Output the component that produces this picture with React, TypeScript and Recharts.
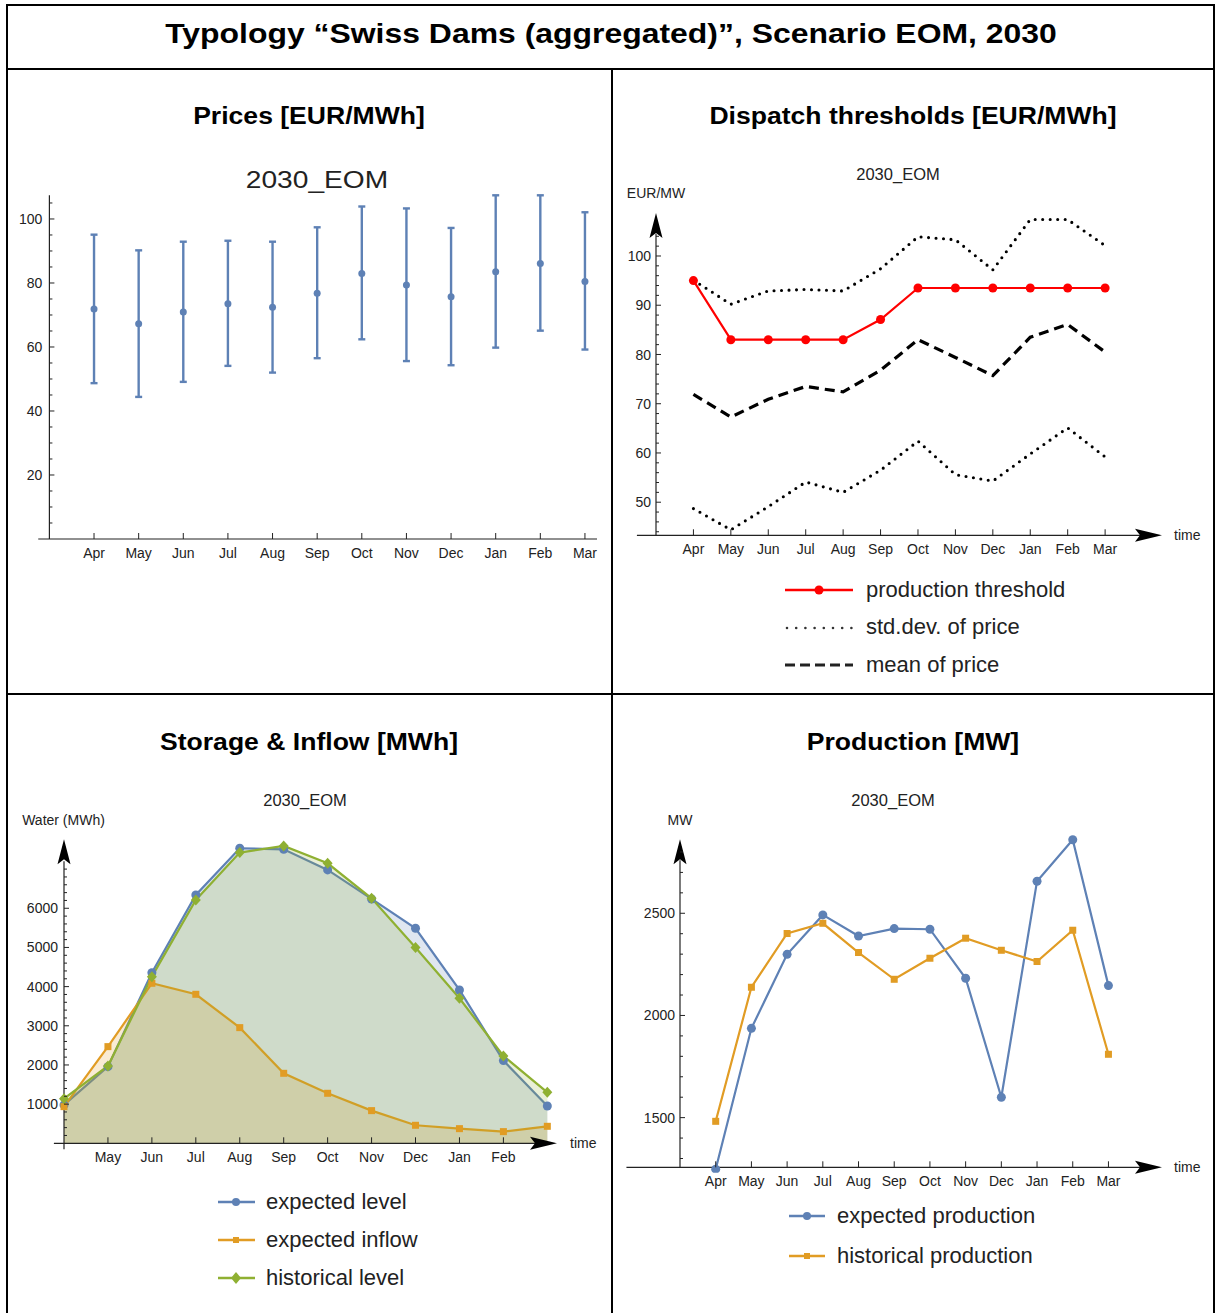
import React from 'react'
import {
  Area,
  ComposedChart,
  ErrorBar,
  Line,
  ReferenceDot,
  ReferenceLine,
  XAxis,
  YAxis,
} from 'recharts'

const FONT = '"Liberation Sans", Arial, Helvetica, sans-serif'
const BLUE = '#5E81B5'
const ORANGE = '#E19C24'
const GREEN = '#8FB032'
const RED = '#FF0000'
const INK = '#222'

const MONTHS = ['Apr', 'May', 'Jun', 'Jul', 'Aug', 'Sep', 'Oct', 'Nov', 'Dec', 'Jan', 'Feb', 'Mar']

// monthly price statistics [EUR/MWh]
const priceMean = [71.9, 67.3, 70.9, 73.5, 72.4, 76.8, 83.0, 79.4, 75.7, 83.5, 86.1, 80.5]
const priceHigh = [95.1, 90.2, 92.9, 93.2, 92.9, 97.4, 103.9, 103.3, 97.2, 107.4, 107.4, 102.1]
const priceLow = [48.7, 44.4, 49.1, 54.1, 52.0, 56.5, 62.4, 55.6, 54.3, 59.8, 65.1, 59.2]

// dispatch threshold [EUR/MWh]
const productionThreshold = [95.0, 83.0, 83.0, 83.0, 83.0, 87.1, 93.5, 93.5, 93.5, 93.5, 93.5, 93.5]

// reservoir [MWh]
const expectedLevel = [980, 1957, 4357, 6340, 7532, 7506, 6979, 6238, 5489, 3915, 2111, 953]
const expectedInflow = [936, 2468, 4085, 3804, 2953, 1787, 1277, 834, 460, 374, 298, 434]
const historicalLevel = [1140, 1974, 4255, 6213, 7421, 7591, 7149, 6255, 4996, 3702, 2230, 1302]

// production [MW]
const expectedProduction = [1248, 1937, 2299, 2492, 2389, 2425, 2422, 2182, 1600, 2657, 2860, 2146]
const historicalProduction = [1482, 2138, 2401, 2451, 2308, 2177, 2280, 2378, 2319, 2264, 2417, 1810]

// labelled axis ticks
const priceTicks = [20, 40, 60, 80, 100]
const thresholdTicks = [50, 60, 70, 80, 90, 100]
const storageTicks = [1000, 2000, 3000, 4000, 5000, 6000]
const productionTicks = [1500, 2000, 2500]

const priceRows = MONTHS.map((m, i) => ({
  t: i + 1,
  mean: priceMean[i],
  err: [priceMean[i] - priceLow[i], priceHigh[i] - priceMean[i]],
  high: priceHigh[i],
  low: priceLow[i],
  threshold: productionThreshold[i],
}))

const storageRows = MONTHS.map((m, i) => ({
  t: i,
  level: expectedLevel[i],
  inflow: expectedInflow[i],
  hist: historicalLevel[i],
}))

const productionRows = MONTHS.map((m, i) => ({
  t: i + 1,
  expected: expectedProduction[i],
  historical: historicalProduction[i],
}))

const steps = (from: number, to: number, step: number) => {
  const out: number[] = []
  for (let v = from; v <= to + 1e-9; v += step) out.push(Math.round(v * 100) / 100)
  return out
}

const YW = 40
const XH = 30
type Box = { left: number; top: number; width: number; height: number }
type Plot = { left: number; top: number; right: number; bottom: number }
const marginFor = (box: Box, plot: Plot) => ({
  left: plot.left - box.left - YW,
  top: plot.top - box.top,
  right: box.left + box.width - plot.right,
  bottom: box.top + box.height - plot.bottom - XH,
})

// Mathematica-style ticks: pointing into the plot, labels only on the majors
const valueTick = (labels: number[], gap: number) => (props: any) => {
  const { x, y, payload } = props
  const major = labels.includes(payload.value)
  return (
    <g>
      <line x1={x} x2={x + (major ? 5 : 3)} y1={y} y2={y} stroke={INK} strokeWidth={1} />
      {major && (
        <text x={x - gap} y={y} dy="0.36em" textAnchor="end" fontSize={14} fill={INK} fontFamily={FONT}>
          {payload.value}
        </text>
      )}
    </g>
  )
}

const monthTick = (offset: number) => (props: any) => {
  const { x, y, payload } = props
  return (
    <g>
      <line x1={x} x2={x} y1={y} y2={y - 6} stroke={INK} strokeWidth={1} />
      <text x={x} y={y + 14} dy="0.36em" textAnchor="middle" fontSize={14} fill={INK} fontFamily={FONT}>
        {MONTHS[payload.value - offset]}
      </text>
    </g>
  )
}

const upArrow = (p: any) => (
  <polygon
    points={`${p.cx},${p.cy} ${p.cx - 6.5},${p.cy + 25} ${p.cx},${p.cy + 20} ${p.cx + 6.5},${p.cy + 25}`}
    fill="#000"
  />
)
const rightArrow = (p: any) => (
  <polygon
    points={`${p.cx},${p.cy} ${p.cx - 27},${p.cy - 6.5} ${p.cx - 22},${p.cy} ${p.cx - 27},${p.cy + 6.5}`}
    fill="#000"
  />
)

const circleDot = (color: string, r = 4.5) => (p: any) => (
  <circle key={p.index} cx={p.cx} cy={p.cy} r={r} fill={color} />
)
const squareDot = (color: string, s = 7) => (p: any) => (
  <rect key={p.index} x={p.cx - s / 2} y={p.cy - s / 2} width={s} height={s} fill={color} />
)
const diamondDot = (color: string) => (p: any) => (
  <polygon
    key={p.index}
    points={`${p.cx},${p.cy - 5.5} ${p.cx + 5},${p.cy} ${p.cx},${p.cy + 5.5} ${p.cx - 5},${p.cy}`}
    fill={color}
  />
)

function Txt({
  x,
  y,
  children,
  size = 14,
  bold = false,
  stretch = 1,
  anchor = 'middle',
}: {
  x: number
  y: number
  children: React.ReactNode
  size?: number
  bold?: boolean
  stretch?: number
  anchor?: 'middle' | 'start'
}) {
  const tx = anchor === 'middle' ? '-50%' : '0'
  return (
    <div
      style={{
        position: 'absolute',
        left: x,
        top: y,
        transform: `translate(${tx}, -50%) scaleX(${stretch})`,
        transformOrigin: anchor === 'middle' ? 'center' : 'left center',
        fontSize: size,
        fontWeight: bold ? 700 : 400,
        fontFamily: FONT,
        lineHeight: 1,
        whiteSpace: 'nowrap',
        color: bold ? '#000' : INK,
      }}
    >
      {children}
    </div>
  )
}

const axisLine = { stroke: INK, strokeWidth: 1.2, ifOverflow: 'visible' as const }

function PricesChart() {
  const box = { left: 0, top: 140, width: 612, height: 440 }
  const plot = { left: 49.4, top: 195.3, right: 597, bottom: 539 }
  return (
    <div style={{ position: 'absolute', left: box.left, top: box.top }}>
      <ComposedChart width={box.width} height={box.height} data={priceRows} margin={marginFor(box, plot)}>
        <XAxis
          type="number"
          dataKey="t"
          domain={[0, 12.27]}
          ticks={steps(1, 12, 1)}
          interval={0}
          height={XH}
          axisLine={false}
          tickLine={false}
          tickSize={0}
          tickMargin={0}
          tick={monthTick(1)}
        />
        <YAxis
          type="number"
          domain={[0, 107.4]}
          ticks={steps(5, 105, 5)}
          interval={0}
          width={YW}
          axisLine={false}
          tickLine={false}
          tickSize={0}
          tickMargin={0}
          tick={valueTick(priceTicks, 7)}
        />
        <ReferenceLine segment={[{ x: -0.25, y: 0 }, { x: 12.27, y: 0 }]} {...axisLine} />
        <ReferenceLine segment={[{ x: 0, y: 0 }, { x: 0, y: 107.4 }]} {...axisLine} />
        <Line
          dataKey="mean"
          stroke="none"
          dot={{ r: 3.5, fill: BLUE, stroke: 'none' }}
          isAnimationActive={false}
        >
          <ErrorBar dataKey="err" width={3.5} strokeWidth={2.4} stroke={BLUE} direction="y" />
        </Line>
      </ComposedChart>
    </div>
  )
}

function ThresholdChart() {
  const box = { left: 612, top: 140, width: 604, height: 440 }
  const plot = { left: 656, top: 213, right: 1162, bottom: 535.3 }
  return (
    <div style={{ position: 'absolute', left: box.left, top: box.top }}>
      <ComposedChart width={box.width} height={box.height} data={priceRows} margin={marginFor(box, plot)}>
        <XAxis
          type="number"
          dataKey="t"
          domain={[0, 13.52]}
          ticks={steps(1, 12, 1)}
          interval={0}
          height={XH}
          axisLine={false}
          tickLine={false}
          tickSize={0}
          tickMargin={0}
          tick={monthTick(1)}
        />
        <YAxis
          type="number"
          domain={[43.28, 108.73]}
          ticks={steps(44, 104, 2)}
          interval={0}
          width={YW}
          axisLine={false}
          tickLine={false}
          tickSize={0}
          tickMargin={0}
          tick={valueTick(thresholdTicks, 5)}
        />
        <ReferenceLine segment={[{ x: -0.51, y: 43.28 }, { x: 13.0, y: 43.28 }]} {...axisLine} />
        <ReferenceLine segment={[{ x: 0, y: 43.28 }, { x: 0, y: 104.5 }]} {...axisLine} />
        <ReferenceDot x={0} y={108.73} shape={upArrow} ifOverflow="visible" />
        <ReferenceDot x={13.52} y={43.28} shape={rightArrow} ifOverflow="visible" />
        <Line
          dataKey="high"
          stroke="#000"
          strokeWidth={3.1}
          strokeDasharray="0 7.5"
          strokeLinecap="round"
          dot={false}
          isAnimationActive={false}
        />
        <Line
          dataKey="low"
          stroke="#000"
          strokeWidth={3.1}
          strokeDasharray="0 7.5"
          strokeLinecap="round"
          dot={false}
          isAnimationActive={false}
        />
        <Line
          dataKey="mean"
          stroke="#000"
          strokeWidth={3.2}
          strokeDasharray="10 6"
          dot={false}
          isAnimationActive={false}
        />
        <Line
          dataKey="threshold"
          stroke={RED}
          strokeWidth={2.2}
          dot={{ r: 4.5, fill: RED, stroke: 'none' }}
          isAnimationActive={false}
        />
      </ComposedChart>
    </div>
  )
}

function StorageChart() {
  const box = { left: 0, top: 780, width: 612, height: 420 }
  const plot = { left: 64, top: 839.3, right: 557, bottom: 1143.3 }
  return (
    <div style={{ position: 'absolute', left: box.left, top: box.top }}>
      <ComposedChart width={box.width} height={box.height} data={storageRows} margin={marginFor(box, plot)}>
        <XAxis
          type="number"
          dataKey="t"
          domain={[0, 11.22]}
          ticks={steps(1, 10, 1)}
          interval={0}
          height={XH}
          axisLine={false}
          tickLine={false}
          tickSize={0}
          tickMargin={0}
          tick={monthTick(0)}
        />
        <YAxis
          type="number"
          domain={[0, 7761]}
          ticks={steps(200, 7000, 200)}
          interval={0}
          width={YW}
          axisLine={false}
          tickLine={false}
          tickSize={0}
          tickMargin={0}
          tick={valueTick(storageTicks, 6)}
        />
        <Area
          type="linear"
          dataKey="level"
          stroke={BLUE}
          strokeWidth={2.2}
          fill={BLUE}
          fillOpacity={0.2}
          dot={circleDot(BLUE)}
          isAnimationActive={false}
        />
        <Area
          type="linear"
          dataKey="inflow"
          stroke={ORANGE}
          strokeWidth={2.2}
          fill={ORANGE}
          fillOpacity={0.2}
          dot={squareDot(ORANGE)}
          isAnimationActive={false}
        />
        <Area
          type="linear"
          dataKey="hist"
          stroke={GREEN}
          strokeWidth={2.2}
          fill={GREEN}
          fillOpacity={0.2}
          dot={diamondDot(GREEN)}
          isAnimationActive={false}
        />
        <ReferenceLine segment={[{ x: -0.23, y: 0 }, { x: 10.8, y: 0 }]} {...axisLine} />
        <ReferenceLine segment={[{ x: 0, y: -153 }, { x: 0, y: 7200 }]} {...axisLine} />
        <ReferenceDot x={0} y={7761} shape={upArrow} ifOverflow="visible" />
        <ReferenceDot x={11.22} y={0} shape={rightArrow} ifOverflow="visible" />
      </ComposedChart>
    </div>
  )
}

function ProductionChart() {
  const box = { left: 612, top: 780, width: 604, height: 420 }
  const plot = { left: 680, top: 839.3, right: 1162, bottom: 1167.3 }
  return (
    <div style={{ position: 'absolute', left: box.left, top: box.top }}>
      <ComposedChart width={box.width} height={box.height} data={productionRows} margin={marginFor(box, plot)}>
        <XAxis
          type="number"
          dataKey="t"
          domain={[0, 13.5]}
          ticks={steps(1, 12, 1)}
          interval={0}
          height={XH}
          axisLine={false}
          tickLine={false}
          tickSize={0}
          tickMargin={0}
          tick={monthTick(1)}
        />
        <YAxis
          type="number"
          domain={[1257, 2862]}
          allowDataOverflow
          ticks={steps(1300, 2800, 100)}
          interval={0}
          width={YW}
          axisLine={false}
          tickLine={false}
          tickSize={0}
          tickMargin={0}
          tick={valueTick(productionTicks, 5)}
        />
        <ReferenceLine segment={[{ x: -1.5, y: 1257 }, { x: 13.0, y: 1257 }]} {...axisLine} />
        <ReferenceLine segment={[{ x: 0, y: 1257 }, { x: 0, y: 2760 }]} {...axisLine} />
        <ReferenceDot x={0} y={2862} shape={upArrow} ifOverflow="visible" />
        <ReferenceDot x={13.5} y={1257} shape={rightArrow} ifOverflow="visible" />
        <Line
          dataKey="expected"
          stroke={BLUE}
          strokeWidth={2.2}
          dot={{ r: 4.5, fill: BLUE, stroke: 'none', clipDot: false } as any}
          isAnimationActive={false}
        />
        <Line
          dataKey="historical"
          stroke={ORANGE}
          strokeWidth={2.2}
          dot={squareDot(ORANGE)}
          isAnimationActive={false}
        />
      </ComposedChart>
    </div>
  )
}

function Legends() {
  return (
    <>
      <svg style={{ position: 'absolute', left: 0, top: 0 }} width={1216} height={1313} pointerEvents="none">
        {/* dispatch legend samples */}
        <line x1={785} x2={853} y1={590} y2={590} stroke={RED} strokeWidth={2.4} />
        <circle cx={819} cy={590} r={4.5} fill={RED} />
        <line x1={787} x2={853} y1={628} y2={628} stroke="#333" strokeWidth={2.6} strokeDasharray="0 9.2" strokeLinecap="round" />
        <line x1={785} x2={853} y1={665} y2={665} stroke="#222" strokeWidth={3} strokeDasharray="10 5" />
        {/* storage legend samples */}
        <line x1={218} x2={255} y1={1202} y2={1202} stroke={BLUE} strokeWidth={2.4} />
        <circle cx={236} cy={1202} r={4} fill={BLUE} />
        <line x1={218} x2={255} y1={1240} y2={1240} stroke={ORANGE} strokeWidth={2.4} />
        <rect x={233} y={1237} width={6} height={6} fill={ORANGE} />
        <line x1={218} x2={255} y1={1278} y2={1278} stroke={GREEN} strokeWidth={2.4} />
        <polygon points="236,1272 241,1278 236,1284 231,1278" fill={GREEN} />
        {/* production legend samples */}
        <line x1={789} x2={825} y1={1216} y2={1216} stroke={BLUE} strokeWidth={2.4} />
        <circle cx={807} cy={1216} r={4} fill={BLUE} />
        <line x1={789} x2={825} y1={1256} y2={1256} stroke={ORANGE} strokeWidth={2.4} />
        <rect x={804} y={1253} width={6} height={6} fill={ORANGE} />
      </svg>
      <Txt x={866} y={590} size={22} anchor="start">production threshold</Txt>
      <Txt x={866} y={627} size={22} anchor="start">std.dev. of price</Txt>
      <Txt x={866} y={665} size={22} anchor="start">mean of price</Txt>
      <Txt x={266} y={1202} size={22} anchor="start">expected level</Txt>
      <Txt x={266} y={1240} size={22} anchor="start">expected inflow</Txt>
      <Txt x={266} y={1278} size={22} anchor="start">historical level</Txt>
      <Txt x={837} y={1216} size={22} anchor="start">expected production</Txt>
      <Txt x={837} y={1256} size={22} anchor="start">historical production</Txt>
    </>
  )
}

export default function App() {
  const rule = { position: 'absolute' as const, background: '#000' }
  return (
    <div
      style={{
        position: 'absolute',
        left: 0,
        top: 0,
        width: 1216,
        height: 1313,
        overflow: 'hidden',
        background: '#fff',
        fontFamily: FONT,
      }}
    >
      {/* table frame */}
      <div style={{ position: 'absolute', left: 6, top: 4, width: 1209, height: 1330, border: '2px solid #000', boxSizing: 'border-box' }} />
      <div style={{ ...rule, left: 6, top: 68, width: 1209, height: 2 }} />
      <div style={{ ...rule, left: 611, top: 68, width: 2, height: 1260 }} />
      <div style={{ ...rule, left: 6, top: 693, width: 1209, height: 2 }} />

      <Txt x={611} y={34} size={28} bold stretch={1.14}>
        Typology “Swiss Dams (aggregated)”, Scenario EOM, 2030
      </Txt>

      <Txt x={309} y={117} size={23.3} bold stretch={1.14}>Prices [EUR/MWh]</Txt>
      <Txt x={913} y={117} size={23.3} bold stretch={1.14}>Dispatch thresholds [EUR/MWh]</Txt>
      <Txt x={309} y={743} size={23.3} bold stretch={1.14}>Storage &amp; Inflow [MWh]</Txt>
      <Txt x={913} y={743} size={23.3} bold stretch={1.14}>Production [MW]</Txt>

      <Txt x={317} y={180} size={24.7} stretch={1.14}>2030_EOM</Txt>
      <Txt x={898} y={174} size={16.5}>2030_EOM</Txt>
      <Txt x={305} y={800} size={16.5}>2030_EOM</Txt>
      <Txt x={893} y={800} size={16.5}>2030_EOM</Txt>

      <PricesChart />
      <ThresholdChart />
      <StorageChart />
      <ProductionChart />

      <Txt x={656} y={193}>EUR/MW</Txt>
      <Txt x={1174} y={535} anchor="start">time</Txt>
      <Txt x={63.5} y={820}>Water (MWh)</Txt>
      <Txt x={570} y={1143} anchor="start">time</Txt>
      <Txt x={680} y={820}>MW</Txt>
      <Txt x={1174} y={1167} anchor="start">time</Txt>

      <Legends />
    </div>
  )
}
